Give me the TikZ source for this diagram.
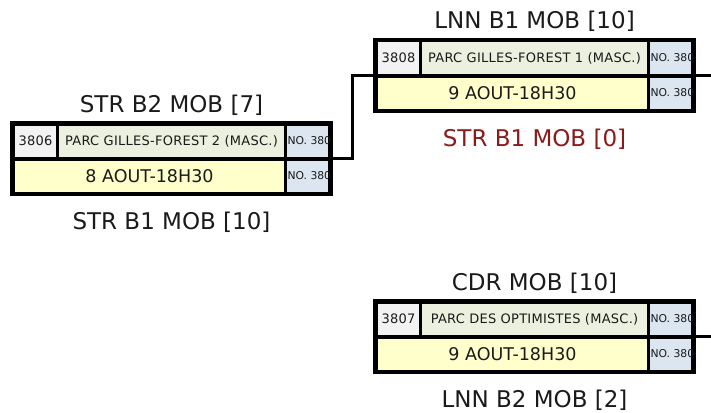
\documentclass[tikz,border=0pt]{standalone}
\usepackage{fontspec}
\setmainfont{DejaVu Sans}
\newfontfamily\cellfont[LetterSpace=2]{DejaVu Sans}
\usetikzlibrary{positioning}
\definecolor{idgray}{HTML}{F2F2F2}
\definecolor{parkgreen}{HTML}{EBF1DE}
\definecolor{dateyellow}{HTML}{FFFFCC}
\definecolor{noblue}{HTML}{DCE6F1}
\definecolor{celltext}{HTML}{1A1A1A}
\definecolor{teamtext}{HTML}{1A1A1A}
\definecolor{zeroteam}{HTML}{8B1A1A}
\begin{document}
\begin{tikzpicture}[x=1pt,y=-1pt,
	frame/.style = {fill=black, anchor=north west, inner sep=0pt, outer sep=0pt, minimum width=323pt, minimum height=75pt},
	cell/.style = {inner sep=0pt, outer sep=0pt, text=celltext},
	id cell/.style = {cell, fill=idgray, minimum width=41pt, minimum height=31pt, font=\cellfont\fontsize{13}{15}\selectfont},
	park cell/.style = {cell, fill=parkgreen, minimum width=225pt, minimum height=31pt, font=\cellfont\fontsize{13}{15}\selectfont},
	date cell/.style = {cell, fill=dateyellow, minimum width=269pt, minimum height=31pt, font=\fontsize{17.5}{20}\selectfont},
	no cell/.style = {cell, fill=noblue, minimum width=41pt, minimum height=31pt},
	no text/.style = {cell, anchor=west, inner sep=0.5pt, font=\fontsize{10.8}{12}\selectfont},
	team/.style = {anchor=base, text=teamtext, font=\fontsize{23}{27}\selectfont},
	link/.style = {line width=3pt}]
	\useasboundingbox (0,0) rectangle (711,412);

	% match 3806
	\node[frame] (f1) at (10,121) {};
	\node[id cell, below right=4.5pt and 5pt of f1.north west] (id1) {3806};
	\node[park cell, right=3pt of id1] (p1) {PARC GILLES-FOREST 2 (MASC.)};
	\node[no cell, right=3pt of p1] (n1) {};
	\node[date cell, below=4pt of id1.south west, anchor=north west] (d1) {8 AOUT-18H30};
	\node[no cell, below=4pt of n1] (m1) {};
	\node[no text] (n1t) at (n1.west) {NO. 380};
	\node[no text] (m1t) at (m1.west) {NO. 380};
	\node[team] (t1) at ([yshift=9pt]f1.north) {STR B2 MOB [7]};
	\node[team] (b1) at ([yshift=-33.5pt]f1.south) {STR B1 MOB [10]};

	% match 3808
	\node[frame] (f2) at (373,38) {};
	\node[id cell, below right=4.5pt and 5pt of f2.north west] (id2) {3808};
	\node[park cell, right=3pt of id2] (p2) {PARC GILLES-FOREST 1 (MASC.)};
	\node[no cell, right=3pt of p2] (n2) {};
	\node[date cell, below=4pt of id2.south west, anchor=north west] (d2) {9 AOUT-18H30};
	\node[no cell, below=4pt of n2] (m2) {};
	\node[no text] (n2t) at (n2.west) {NO. 380};
	\node[no text] (m2t) at (m2.west) {NO. 380};
	\node[team] (t2) at ([yshift=9pt]f2.north) {LNN B1 MOB [10]};
	\node[team, text=zeroteam] (b2) at ([yshift=-33.5pt]f2.south) {STR B1 MOB [0]};

	% match 3807
	\node[frame] (f3) at (373,299) {};
	\node[id cell, below right=4.5pt and 5pt of f3.north west] (id3) {3807};
	\node[park cell, right=3pt of id3] (p3) {PARC DES OPTIMISTES (MASC.)};
	\node[no cell, right=3pt of p3] (n3) {};
	\node[date cell, below=4pt of id3.south west, anchor=north west] (d3) {9 AOUT-18H30};
	\node[no cell, below=4pt of n3] (m3) {};
	\node[no text] (n3t) at (n3.west) {NO. 380};
	\node[no text] (m3t) at (m3.west) {NO. 380};
	\node[team] (t3) at ([yshift=9pt]f3.north) {CDR MOB [10]};
	\node[team] (b3) at ([yshift=-33.5pt]f3.south) {LNN B2 MOB [2]};

	\coordinate (out2) at (711,75.5);
	\coordinate (out3) at (711,336.5);
	\draw[link] (f1.east) -- ++(19,0) |- (f2.west);
	\draw[link] (f2.east) -- (out2);
	\draw[link] (f3.east) -- (out3);
\end{tikzpicture}
\end{document}
